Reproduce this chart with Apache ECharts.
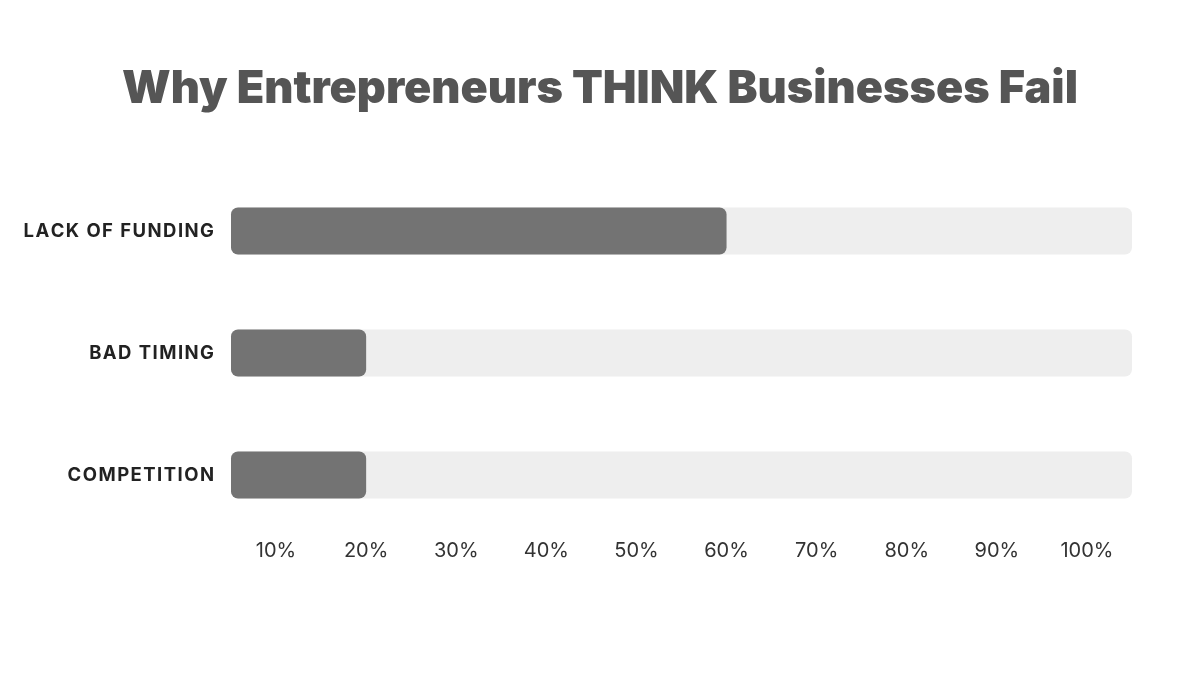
<!DOCTYPE html>
<html><head><meta charset="utf-8">
<script src="https://cdn.jsdelivr.net/npm/echarts@6/dist/echarts.min.js"></script>
<style>html,body{margin:0;padding:0;background:#fff}#c{width:1200px;height:675px}</style>
</head><body><div id="c"></div>
<script>
const titleText = 'Why Entrepreneurs THINK Businesses Fail';
const categories = ['LACK OF FUNDING', 'BAD TIMING', 'COMPETITION'];
const values = [60, 20, 20];
const tickValues = [10, 20, 30, 40, 50, 60, 70, 80, 90, 100];

const spaced = s => s.split('').join('\u200A');

const chart = echarts.init(document.getElementById('c'), null, {renderer: 'canvas'});
chart.setOption({
  backgroundColor: '#ffffff',
  animation: false,
  title: {
    text: titleText, left: 'center', top: 62,
    textStyle: {fontFamily: 'Inter', fontWeight: 900, fontSize: 45, color: '#555555'}
  },
  grid: {left: 231, right: 68, top: 170, bottom: 139, containLabel: false},
  xAxis: {
    type: 'value', min: 5, max: 105,
    splitLine: {show: false}, axisLine: {show: false}, axisTick: {show: false},
    axisLabel: {
      customValues: tickValues, margin: 5,
      formatter: v => v + '%',
      fontFamily: 'Inter', fontSize: 20, color: '#333333'
    }
  },
  yAxis: {
    type: 'category', data: categories, inverse: true,
    axisLine: {show: false}, axisTick: {show: false}, splitLine: {show: false},
    axisLabel: {margin: 17, formatter: v => spaced(v), fontFamily: 'Inter', fontWeight: 700, fontSize: 18.5, color: '#222222'}
  },
  series: [{
    type: 'bar', data: values, barWidth: 47,
    itemStyle: {color: '#737373', borderRadius: 7},
    showBackground: true,
    backgroundStyle: {color: '#eeeeee', borderRadius: 7}
  }]
});
</script></body></html>
